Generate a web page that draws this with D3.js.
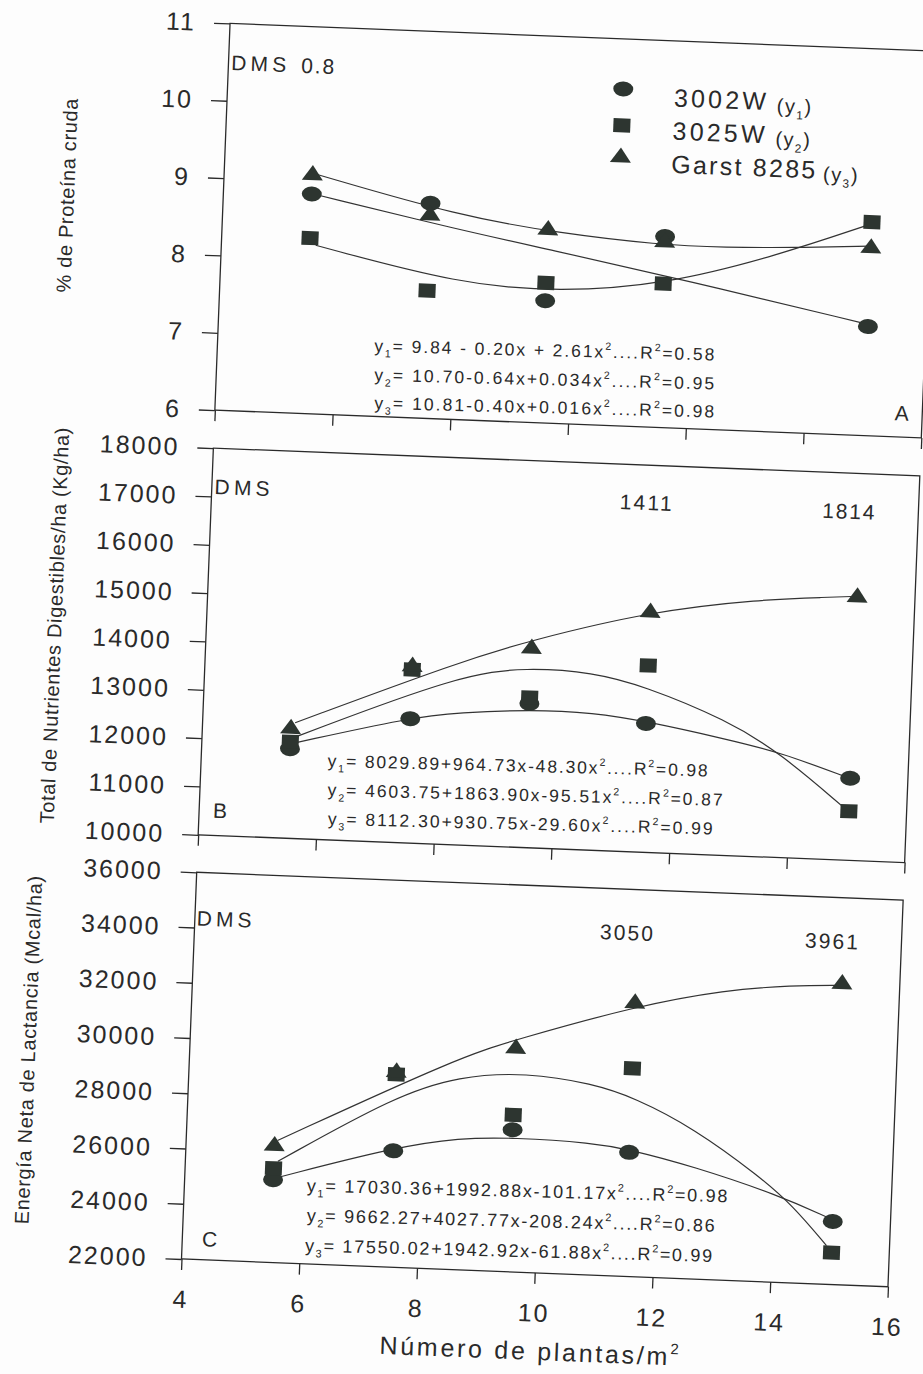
<!DOCTYPE html>
<html><head><meta charset="utf-8">
<script src="https://cdn.jsdelivr.net/npm/d3@7"></script>
<style>
body{margin:0;background:#fdfdfd;}
svg{display:block;}
text{font-family:"Liberation Sans",Arial,Helvetica,sans-serif;fill:#2a2a2a;}
</style></head>
<body><svg id="chart" width="923" height="1374"></svg>
<script>
// ---------------- data ----------------
const density = [5.5, 7.52, 9.53, 11.52, 15.02];
const xTickValues = [4, 6, 8, 10, 12, 14, 16];
const seriesNames = ["3002W", "3025W", "Garst 8285"];
const seriesTags = ["(y_1)", "(y_2)", "(y_3)"];

// Panel A: % de Proteína cruda
const ticksA = [6, 7, 8, 9, 10, 11];
const protA_3002W = [8.84, 8.78, 7.58, 8.47, 7.41];
const protA_3025W = [8.27, 7.65, 7.81, 7.86, 8.76];
const protA_Garst = [9.11, 8.65, 8.52, 8.42, 8.45];
const fitA_3002W_x = [5.6, 8.03, 9.52, 11.94, 14.95];
const fitA_3002W_y = [8.83, 8.45, 8.25, 7.91, 7.45];
const fitA_3025W_x = [5.6, 8.07, 9.77, 11.55, 13.43, 14.95];
const fitA_3025W_y = [8.18, 7.75, 7.70, 7.85, 8.28, 8.72];
const fitA_Garst_x = [5.55, 8.02, 9.73, 11.39, 12.58, 13.69, 15.0];
const fitA_Garst_y = [9.10, 8.63, 8.46, 8.36, 8.36, 8.39, 8.45];
const eqA = ["y_1= 9.84 - 0.20x + 2.61x^2....R^2=0.58",
             "y_2= 10.70-0.64x+0.034x^2....R^2=0.95",
             "y_3= 10.81-0.40x+0.016x^2....R^2=0.98"];

// Panel B: Total de Nutrientes Digestibles/ha (Kg/ha)
const ticksB = [10000, 11000, 12000, 13000, 14000, 15000, 16000, 17000, 18000];
const tndB_3002W = [11852, 12571, 12981, 12664, 11697];
const tndB_3025W = [11997, 13586, 13105, 13863, 11015];
const tndB_Garst = [12307, 13690, 14159, 15000, 15482];
const fitB_3002W_x = [5.6, 7.52, 8.36, 9.55, 10.62, 11.54, 12.91, 13.82, 15.0];
const fitB_3002W_y = [11984, 12592, 12737, 12857, 12846, 12706, 12400, 12174, 11700];
const fitB_3025W_x = [5.6, 8.34, 9.47, 10.59, 11.45, 12.89, 13.82, 14.95];
const fitB_3025W_y = [12108, 13522, 13723, 13673, 13440, 12800, 12160, 11070];
const fitB_Garst_x = [5.57, 8.33, 9.52, 11.52, 13.38, 14.51, 15.0];
const fitB_Garst_y = [12394, 13791, 14290, 14980, 15318, 15416, 15460];
const eqB = ["y_1= 8029.89+964.73x-48.30x^2....R^2=0.98",
             "y_2= 4603.75+1863.90x-95.51x^2....R^2=0.87",
             "y_3= 8112.30+930.75x-29.60x^2....R^2=0.99"];
const dmsB = ["1411", "1814"];

// Panel C: Energía Neta de Lactancia (Mcal/ha)
const ticksC = [22000, 24000, 26000, 28000, 30000, 32000, 34000, 36000];
const enlC_3002W = [24996, 26211, 27141, 26490, 24279];
const enlC_3025W = [25412, 28979, 27680, 29533, 23151];
const enlC_Garst = [26291, 29124, 30152, 31957, 32948];
const fitC_3002W_x = [5.61, 7.54, 8.64, 9.54, 10.9, 11.51, 12.61, 14.1, 14.95];
const fitC_3002W_y = [25104, 26338, 26772, 26860, 26780, 26600, 26081, 25144, 24400];
const fitC_3025W_x = [5.57, 7.52, 8.59, 9.72, 10.86, 11.58, 12.59, 13.75, 14.33, 14.93];
const fitC_3025W_y = [25669, 28200, 29004, 29229, 28920, 28470, 27470, 25803, 24800, 23400];
const fitC_Garst_x = [5.55, 8.58, 9.53, 11.51, 13.06, 14.18, 14.98];
const fitC_Garst_y = [26421, 29692, 30405, 31769, 32503, 32753, 32822];
const eqC = ["y_1= 17030.36+1992.88x-101.17x^2....R^2=0.98",
             "y_2= 9662.27+4027.77x-208.24x^2....R^2=0.86",
             "y_3= 17550.02+1942.92x-61.88x^2....R^2=0.99"];
const dmsC = ["3050", "3961"];

// ---------------- layout ----------------
const INK = "#2a2a2a", MARK = "#2d3530";
const LEFT = 181.5, W = 707, H = 387;
const shapes = ["circle", "square", "triangle"];

const svg = d3.select("#chart");
svg.append("rect").attr("width", 923).attr("height", 1374).attr("fill", "#fdfdfd");
const root = svg.append("g").attr("transform", "rotate(2.25 182 1259)");

function fitLen(t, target) {
  const node = t.node();
  t.attr("letter-spacing", 0);
  const n = node.getNumberOfChars();
  const L = node.getComputedTextLength();
  if (n > 1) t.attr("letter-spacing", ((target - L) / (n - 1)).toFixed(2));
  return t;
}

function rich(g, str, x, y, size) {
  const t = g.append("text").attr("x", x).attr("y", y).attr("font-size", size);
  const segs = [];
  for (let i = 0; i < str.length; i++) {
    const ch = str[i];
    if (ch === "_" || ch === "^") { segs.push({s: str[++i], k: ch}); }
    else {
      if (segs.length && segs[segs.length - 1].k === "") segs[segs.length - 1].s += ch;
      else segs.push({s: ch, k: ""});
    }
  }
  let cur = 0;
  segs.forEach(sg => {
    const off = sg.k === "_" ? 0.3 * size : sg.k === "^" ? -0.45 * size : 0;
    t.append("tspan").attr("dy", (off - cur).toFixed(2))
      .attr("font-size", sg.k ? size * 0.6 : size).text(sg.s);
    cur = off;
  });
  return t;
}

function drawMarker(g, shape, cx, cy) {
  if (shape === "circle") {
    g.append("ellipse").attr("cx", cx).attr("cy", cy).attr("rx", 10).attr("ry", 7.5).attr("fill", MARK);
  } else if (shape === "square") {
    g.append("rect").attr("x", cx - 8.5).attr("y", cy - 7).attr("width", 17).attr("height", 14).attr("fill", MARK);
  } else {
    g.append("path").attr("d", `M${cx},${cy - 8}L${cx + 10.5},${cy + 7}L${cx - 10.5},${cy + 7}Z`).attr("fill", MARK);
  }
}

const panels = [
  {bottom: 409.5, domain: [6, 11], ticks: ticksA,
   series: [protA_3002W, protA_3025W, protA_Garst],
   fits: [[fitA_3002W_x, fitA_3002W_y], [fitA_3025W_x, fitA_3025W_y], [fitA_Garst_x, fitA_Garst_y]],
   ylabel: "% de Proteína cruda", ylab: [25.4, 200.5, 194],
   eqs: eqA, eqPos: [[338.4, 345, 340], [339.6, 374, 340], [340.7, 402, 340]], eqSize: 17.5,
   letter: ["A", 861, 393], dms: [["DMS", 184.3, 69, 55], ["0.8", 254.3, 69, 33]], labels: false},
  {bottom: 834.5, domain: [10000, 18000], ticks: ticksB,
   series: [tndB_3002W, tndB_3025W, tndB_Garst],
   fits: [[fitB_3002W_x, fitB_3002W_y], [fitB_3025W_x, fitB_3025W_y], [fitB_Garst_x, fitB_Garst_y]],
   ylabel: "Total de Nutrientes Digestibles/ha (Kg/ha)", ylab: [29.7, 630.6, 396],
   eqs: eqB, eqPos: [[308.2, 761.5, 380], [309.3, 790.5, 395], [310.5, 819.4, 385]], eqSize: 17.5,
   letter: ["B", 195.3, 817], dms: [["DMS", 184.3, 493.3, 55], [dmsB[0], 589.6, 492.3, 52], [dmsB[1], 792.5, 493.2, 52]], labels: false},
  {bottom: 1259, domain: [22000, 36000], ticks: ticksC,
   series: [enlC_3002W, enlC_3025W, enlC_Garst],
   fits: [[fitC_3002W_x, fitC_3002W_y], [fitC_3025W_x, fitC_3025W_y], [fitC_Garst_x, fitC_Garst_y]],
   ylabel: "Energía Neta de Lactancia (Mcal/ha)", ylab: [20.2, 1055.9, 349],
   eqs: eqC, eqPos: [[303.9, 1186.8, 421], [305.1, 1216.7, 408], [304.6, 1246.8, 407]], eqSize: 18,
   letter: ["C", 201.2, 1245.6], dms: [["DMS", 183.3, 925.1, 55], [dmsC[0], 586.9, 922.8, 53], [dmsC[1], 792, 923.2, 53]], labels: true}
];

panels.forEach(p => {
  const g = root.append("g");
  const x = d3.scaleLinear().domain([4, 16]).range([LEFT, LEFT + W]);
  const y = d3.scaleLinear().domain(p.domain).range([p.bottom, p.bottom - H]);

  // fitted curves (smoothed through the read points)
  const line = d3.line().x(d => x(d[0])).y(d => y(d[1])).curve(d3.curveBasis);
  p.fits.forEach(([fx, fy]) => {
    g.append("path").attr("d", line(fx.map((v, i) => [v, fy[i]])))
      .attr("fill", "none").attr("stroke", "#333").attr("stroke-width", 1.2);
  });

  // frame
  g.append("rect").attr("x", LEFT).attr("y", p.bottom - H).attr("width", W).attr("height", H)
    .attr("fill", "none").attr("stroke", INK).attr("stroke-width", 1.3);

  // axes
  const ya = g.append("g").attr("transform", `translate(${LEFT},0)`)
    .call(d3.axisLeft(y).tickValues(p.ticks).tickSize(16).tickPadding(18).tickFormat(d3.format("d")));
  const xa = g.append("g").attr("transform", `translate(0,${p.bottom})`)
    .call(d3.axisBottom(x).tickValues(xTickValues).tickSize(11).tickPadding(20)
      .tickFormat(p.labels ? d3.format("d") : () => ""));
  [ya, xa].forEach(a => {
    a.select(".domain").remove();
    a.selectAll("line").attr("stroke", INK).attr("stroke-width", 1.3);
    a.selectAll("text").attr("font-size", 25).attr("fill", INK).attr("letter-spacing", 2)
      .style("font-family", '"Liberation Sans",Arial,sans-serif');
  });

  // markers
  p.series.forEach((vals, si) => {
    vals.forEach((v, i) => drawMarker(g, shapes[si], x(density[i]), y(v)));
  });

  // y label
  const yl = g.append("text").attr("text-anchor", "middle").attr("dominant-baseline", "central")
    .attr("font-size", 20).attr("transform", `translate(${p.ylab[0]},${p.ylab[1]}) rotate(-90)`).text(p.ylabel);
  fitLen(yl, p.ylab[2]);

  // equations
  p.eqs.forEach((e, i) => {
    const [ex, ey, len] = p.eqPos[i];
    const t = rich(g, e, ex, ey, p.eqSize).attr("transform", `rotate(-0.8 ${ex} ${ey})`);
    fitLen(t, len);
  });

  // DMS labels and panel letter
  p.dms.forEach(([s, dx, dy, len]) => {
    fitLen(g.append("text").attr("x", dx).attr("y", dy).attr("font-size", 21).text(s), len);
  });
  g.append("text").attr("x", p.letter[1]).attr("y", p.letter[2]).attr("font-size", 21).text(p.letter[0]);
});

// legend (panel A)
const lg = root.append("g");
const legMarkY = [72.5, 109, 139];
const legTextY = [88, 121.2, 154.5];
const legLen = [92, 92, 144];
const tagX = [731, 731, 780];
seriesNames.forEach((nm, i) => {
  drawMarker(lg, shapes[i], 577, legMarkY[i]);
  fitLen(lg.append("text").attr("x", 628).attr("y", legTextY[i]).attr("font-size", 25).text(nm), legLen[i]);
  rich(lg, seriesTags[i], tagX[i], legTextY[i] + 2, 20).attr("letter-spacing", 1.5);
});

// x axis title
const xt = rich(root, "Número de plantas/m^2", 533.7, 1346, 25).attr("text-anchor", "middle");
fitLen(xt, 299);
</script>
</body></html>
